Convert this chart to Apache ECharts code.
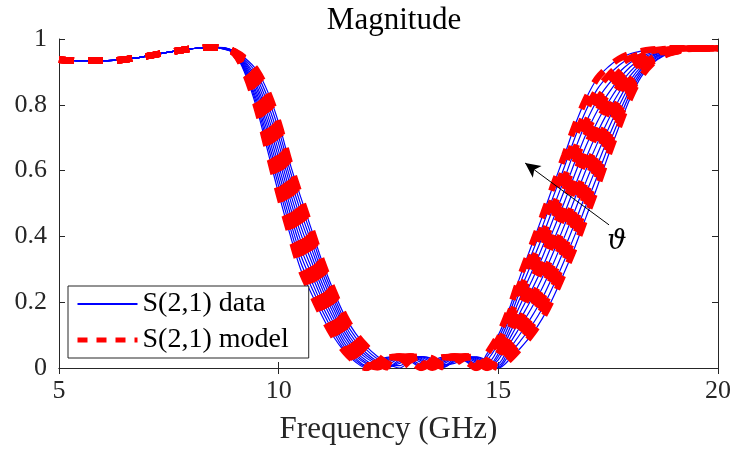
<!DOCTYPE html>
<html>
<head>
<meta charset="utf-8">
<script src="https://cdn.jsdelivr.net/npm/echarts@6/dist/echarts.min.js"></script>
<style>
  html, body { margin: 0; padding: 0; background: #fff; }
  #magMain { width: 734px; height: 456px; }
</style>
</head>
<body>
<div id="magMain"></div>
<script>
// frequency points (GHz)
const freqList = [5, 5.5, 6, 6.5, 7, 7.5, 8, 8.5,
  8.75, 9, 9.25, 9.5, 9.75, 10, 10.25, 10.5, 10.75, 11, 11.25, 11.5, 11.75,
  12, 12.25, 12.5, 12.75, 13, 13.25, 13.5, 13.75, 14, 14.25, 14.5, 14.75,
  15, 15.25, 15.5, 15.75, 16, 16.25, 16.5, 16.75, 17, 17.25, 17.5, 17.75,
  18, 18.25, 18.5, 18.75, 19,
  19.5, 20]

// 5 - 8.5 GHz: every angle gives the same value
const lowBand = [0.937, 0.934, 0.934, 0.938, 0.948, 0.96, 0.97, 0.975]
// 19.5, 20 GHz
const highBand = [0.971, 0.972]

// |S21| from 8.75 to 19 GHz, one row per angle (last row = smallest angle)
const thetaCurves = [
  [0.969, 0.955, 0.890, 0.790, 0.660, 0.530, 0.410, 0.300, 0.225, 0.155, 0.095, 0.050, 0.018, 0.000, 0.021, 0.033, 0.033, 0.021, 0.000, 0.021, 0.033, 0.033, 0.021, 0.000, 0.045, 0.100, 0.180, 0.280, 0.370, 0.460, 0.555, 0.645, 0.740, 0.820, 0.880, 0.915, 0.940, 0.955, 0.963, 0.968, 0.971, 0.972],
  [0.970, 0.956, 0.895, 0.802, 0.678, 0.552, 0.432, 0.322, 0.245, 0.172, 0.109, 0.055, 0.024, 0.004, 0.015, 0.031, 0.035, 0.025, 0.005, 0.016, 0.031, 0.034, 0.024, 0.004, 0.035, 0.088, 0.165, 0.258, 0.343, 0.429, 0.521, 0.610, 0.703, 0.784, 0.847, 0.888, 0.920, 0.942, 0.955, 0.964, 0.969, 0.971],
  [0.970, 0.956, 0.900, 0.813, 0.696, 0.573, 0.453, 0.344, 0.264, 0.188, 0.123, 0.064, 0.030, 0.008, 0.009, 0.027, 0.035, 0.028, 0.011, 0.011, 0.029, 0.035, 0.027, 0.009, 0.025, 0.075, 0.149, 0.236, 0.316, 0.398, 0.487, 0.574, 0.666, 0.748, 0.814, 0.861, 0.899, 0.928, 0.947, 0.959, 0.966, 0.970],
  [0.971, 0.957, 0.905, 0.825, 0.714, 0.595, 0.475, 0.366, 0.284, 0.205, 0.137, 0.074, 0.036, 0.012, 0.002, 0.023, 0.034, 0.032, 0.016, 0.006, 0.026, 0.035, 0.030, 0.013, 0.015, 0.060, 0.134, 0.214, 0.289, 0.367, 0.453, 0.539, 0.629, 0.712, 0.781, 0.834, 0.879, 0.915, 0.940, 0.955, 0.964, 0.968],
  [0.971, 0.958, 0.910, 0.836, 0.732, 0.616, 0.496, 0.388, 0.303, 0.221, 0.151, 0.085, 0.043, 0.016, 0.003, 0.018, 0.032, 0.034, 0.021, 0.001, 0.022, 0.034, 0.032, 0.017, 0.005, 0.045, 0.118, 0.192, 0.262, 0.336, 0.419, 0.503, 0.592, 0.676, 0.748, 0.807, 0.858, 0.901, 0.932, 0.951, 0.962, 0.967],
  [0.972, 0.959, 0.915, 0.848, 0.750, 0.638, 0.518, 0.410, 0.323, 0.238, 0.165, 0.097, 0.051, 0.022, 0.007, 0.011, 0.030, 0.035, 0.025, 0.005, 0.018, 0.032, 0.034, 0.021, 0.000, 0.035, 0.103, 0.170, 0.235, 0.305, 0.385, 0.468, 0.555, 0.640, 0.715, 0.780, 0.838, 0.888, 0.924, 0.947, 0.960, 0.966],
  [0.972, 0.959, 0.920, 0.859, 0.768, 0.659, 0.539, 0.432, 0.342, 0.254, 0.179, 0.109, 0.060, 0.030, 0.011, 0.005, 0.025, 0.035, 0.029, 0.010, 0.013, 0.030, 0.035, 0.025, 0.005, 0.025, 0.087, 0.148, 0.208, 0.274, 0.351, 0.432, 0.518, 0.604, 0.682, 0.753, 0.817, 0.874, 0.916, 0.942, 0.957, 0.965],
  [0.973, 0.960, 0.925, 0.871, 0.786, 0.681, 0.561, 0.454, 0.362, 0.271, 0.193, 0.121, 0.070, 0.037, 0.015, 0.002, 0.020, 0.034, 0.032, 0.016, 0.007, 0.027, 0.035, 0.028, 0.009, 0.013, 0.072, 0.126, 0.181, 0.243, 0.317, 0.397, 0.481, 0.568, 0.649, 0.726, 0.797, 0.861, 0.908, 0.938, 0.955, 0.964],
  [0.973, 0.961, 0.930, 0.882, 0.804, 0.702, 0.582, 0.476, 0.381, 0.287, 0.207, 0.133, 0.081, 0.045, 0.020, 0.005, 0.014, 0.031, 0.034, 0.021, 0.002, 0.023, 0.034, 0.031, 0.014, 0.008, 0.056, 0.104, 0.154, 0.212, 0.283, 0.361, 0.444, 0.532, 0.616, 0.699, 0.776, 0.847, 0.901, 0.934, 0.953, 0.962],
  [0.974, 0.961, 0.935, 0.894, 0.822, 0.724, 0.604, 0.498, 0.401, 0.304, 0.221, 0.146, 0.093, 0.055, 0.027, 0.009, 0.007, 0.028, 0.035, 0.026, 0.004, 0.019, 0.033, 0.033, 0.018, 0.003, 0.041, 0.082, 0.127, 0.181, 0.249, 0.326, 0.407, 0.496, 0.583, 0.672, 0.756, 0.834, 0.893, 0.929, 0.950, 0.961],
  [0.974, 0.962, 0.940, 0.905, 0.840, 0.745, 0.625, 0.520, 0.420, 0.320, 0.235, 0.160, 0.105, 0.065, 0.035, 0.012, 0.000, 0.023, 0.035, 0.029, 0.010, 0.014, 0.031, 0.034, 0.022, 0.000, 0.025, 0.060, 0.100, 0.150, 0.215, 0.290, 0.370, 0.460, 0.550, 0.645, 0.735, 0.820, 0.885, 0.925, 0.948, 0.960]
]

const xTicks = [5, 10, 15, 20]
const yTicks = [0, 0.2, 0.4, 0.6, 0.8, 1]
// arrow annotation (GHz, magnitude)
const arrowFrom = [17.52, 0.435]
const arrowTo = [15.61, 0.623]
const thetaLabelAt = [17.7, 0.383]

const axisColor = '#262626'
const fontName = 'Liberation Serif'

function toPairs (row) {
  const mag = lowBand.concat(row, highBand)
  return freqList.map((f, i) => [f, mag[i]])
}

function buildSeries () {
  const list = []
  thetaCurves.forEach(row => {
    list.push({
      name: 'S(2,1) data',
      type: 'line',
      data: toPairs(row),
      showSymbol: false,
      symbol: 'none',
      smooth: 0.35,
      silent: true,
      lineStyle: { color: '#0000ff', width: 1.2 },
      itemStyle: { color: '#0000ff' }
    })
  })
  thetaCurves.forEach(row => {
    list.push({
      name: 'S(2,1) model',
      type: 'line',
      data: toPairs(row),
      showSymbol: false,
      symbol: 'none',
      smooth: 0.35,
      silent: true,
      lineStyle: { color: '#ff0000', width: 6.5, type: [15, 14], cap: 'butt' },
      itemStyle: { color: '#ff0000' }
    })
  })
  // arrow + theta on the last one
  const last = list[list.length - 1]
  last.markLine = {
    silent: true,
    symbol: ['none', 'arrow'],
    symbolSize: [11, 15],
    label: { show: false },
    lineStyle: { color: '#000', width: 1, type: 'solid' },
    data: [[{ coord: arrowFrom }, { coord: arrowTo }]]
  }
  last.markPoint = {
    silent: true,
    symbol: 'circle',
    symbolSize: 0,
    data: [{
      coord: thetaLabelAt,
      label: {
        show: true,
        formatter: 'ϑ',
        color: '#000',
        fontSize: 27,
        fontStyle: 'italic',
        fontFamily: 'DejaVu Serif'
      }
    }]
  }
  return list
}

function option () {
  const xMin = xTicks[0]
  const xMax = xTicks[xTicks.length - 1]
  const yMin = yTicks[0]
  const yMax = yTicks[yTicks.length - 1]
  const tick = { show: true, inside: true, length: 6, lineStyle: { color: axisColor } }
  return {
    animation: false,
    backgroundColor: '#fff',
    title: {
      text: 'Magnitude',
      left: 389,
      textAlign: 'center',
      top: 0,
      textStyle: { fontFamily: fontName, fontSize: 31, fontWeight: 'normal', color: '#000' }
    },
    legend: {
      data: [
        { name: 'S(2,1) data' },
        { name: 'S(2,1) model', lineStyle: { type: [10, 9], width: 5 } }
      ],
      orient: 'vertical',
      left: 68,
      top: 286,
      padding: [4, 20, 4, 7],
      itemGap: 8,
      itemWidth: 60,
      itemHeight: 14,
      backgroundColor: '#fff',
      borderColor: axisColor,
      borderWidth: 1,
      borderRadius: 0,
      selectedMode: false,
      itemStyle: { color: 'rgba(0,0,0,0)', borderWidth: 0, opacity: 0 },
      textStyle: { fontFamily: fontName, fontSize: 28, color: '#000', lineHeight: 28 }
    },
    grid: { left: 59, right: 15, top: 39, bottom: 88, containLabel: false },
    xAxis: [{
      type: 'value',
      min: xMin,
      max: xMax,
      interval: 5,
      name: 'Frequency (GHz)',
      nameLocation: 'middle',
      nameGap: 46,
      nameTextStyle: { fontFamily: fontName, fontSize: 31, color: axisColor },
      axisLine: { show: true, lineStyle: { color: axisColor } },
      axisTick: tick,
      splitLine: { show: false },
      axisLabel: { margin: 10, fontFamily: fontName, fontSize: 26, color: axisColor }
    }, {
      type: 'value',
      position: 'top',
      min: xMin,
      max: xMax,
      interval: 5,
      axisLine: { show: true, lineStyle: { color: axisColor } },
      axisTick: tick,
      splitLine: { show: false },
      axisLabel: { show: false }
    }],
    yAxis: [{
      type: 'value',
      min: yMin,
      max: yMax,
      interval: 0.2,
      axisLine: { show: true, lineStyle: { color: axisColor } },
      axisTick: tick,
      splitLine: { show: false },
      axisLabel: { margin: 12, fontFamily: fontName, fontSize: 26, color: axisColor }
    }, {
      type: 'value',
      position: 'right',
      min: yMin,
      max: yMax,
      interval: 0.2,
      axisLine: { show: true, lineStyle: { color: axisColor } },
      axisTick: tick,
      splitLine: { show: false },
      axisLabel: { show: false }
    }],
    series: buildSeries()
  }
}

const chart = echarts.init(document.getElementById('magMain'))
chart.setOption(option(), true)
</script>
</body>
</html>
